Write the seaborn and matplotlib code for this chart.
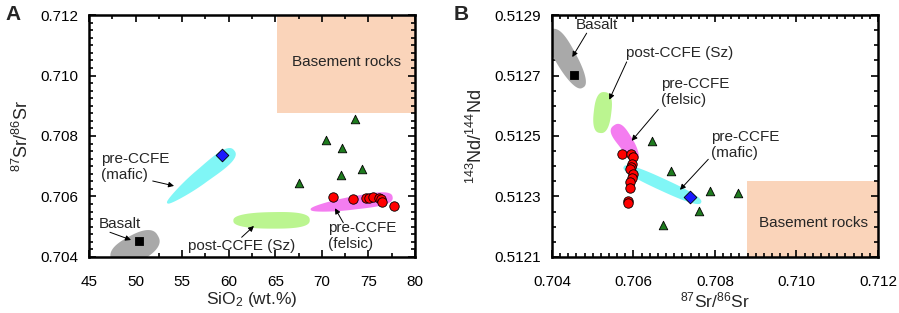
import numpy as np
import matplotlib
matplotlib.use("Agg")
import matplotlib.pyplot as plt
import seaborn as sns
from matplotlib.patches import Polygon, Rectangle
from matplotlib.ticker import FixedLocator, AutoMinorLocator, FormatStrFormatter

# ---- data ----
# panel A: SiO2 vs 87Sr/86Sr
a_tri_x = [73.6, 70.5, 72.2, 74.3, 72.1, 67.5]
a_tri_y = [0.70856, 0.70787, 0.70759, 0.70690, 0.70671, 0.70646]
a_circ_x = [71.2, 73.3, 74.7, 75.1, 75.5, 76.1, 76.4, 76.5, 77.7]
a_circ_y = [0.70599, 0.70592, 0.70596, 0.70594, 0.70598, 0.70594, 0.70592, 0.70583, 0.70570]
a_dia = (59.24, 0.70736)
a_sq = (50.33, 0.70452)

# panel B: 87Sr/86Sr vs 143Nd/144Nd
b_tri_x = [0.70646, 0.70691, 0.70789, 0.70857, 0.70762, 0.70672]
b_tri_y = [0.512484, 0.512385, 0.512319, 0.512310, 0.512251, 0.512207]
b_circ_x = [0.70571, 0.70594, 0.70598, 0.70596, 0.70594, 0.70592, 0.70600,
            0.70596, 0.70592, 0.70592, 0.70586, 0.70586]
b_circ_y = [0.512440, 0.512440, 0.512432, 0.512407, 0.512399, 0.512392, 0.512374,
            0.512360, 0.512349, 0.512329, 0.512286, 0.512280]
b_dia = (0.707387, 0.512299)
b_sq = (0.704548, 0.512703)

# compositional fields: tip-to-tip (start point, end point) in data units
a_fields = {
    "basalt": [(47.50, 0.70385), (52.40, 0.70470)],
    "mafic": [(53.40, 0.70578), (60.60, 0.70752)],
    "post": [(60.50, 0.70520), (68.70, 0.70522)],
    "felsic": [(68.80, 0.70557), (77.60, 0.70598)],
}
b_fields = {
    "basalt": [(0.703950, 0.512850), (0.704760, 0.512660)],
    "post": [(0.705300, 0.512645), (0.705180, 0.512510)],
    "felsic": [(0.705520, 0.512535), (0.706090, 0.512425)],
    "mafic": [(0.705760, 0.512398), (0.707660, 0.512280)],
}
a_basement = [65.15, 80.0, 0.70877, 0.712]
b_basement = [0.70878, 0.712, 0.5121, 0.51235]

a_xticks = [45, 50, 55, 60, 65, 70, 75, 80]
a_yticks = [0.704, 0.706, 0.708, 0.710, 0.712]
b_xticks = [0.704, 0.706, 0.708, 0.710, 0.712]
b_yticks = [0.5121, 0.5123, 0.5125, 0.5127, 0.5129]

# labels: text, text anchor (left, middle), arrow tail, arrow head
a_labels = [
    ("pre-CCFE\n(mafic)", (46.25, 0.706965), (51.84, 0.706512), (54.13, 0.70635)),
    ("Basalt", (46.0, 0.705091), (47.25, 0.704817), (49.51, 0.704562)),
    ("post-CCFE (Sz)", (55.66, 0.704364), (61.39, 0.704651), (62.71, 0.705025)),
    ("pre-CCFE\n(felsic)", (70.7, 0.704684), (72.3, 0.705134), (71.41, 0.70561)),
]
b_labels = [
    ("Basalt", (0.70459, 0.512867), (0.704851, 0.512840), (0.704498, 0.512761)),
    ("post-CCFE (Sz)", (0.705816, 0.512773), (0.705833, 0.512745), (0.705406, 0.512620)),
    ("pre-CCFE\n(felsic)", (0.706675, 0.512645), (0.70661, 0.512588), (0.705956, 0.512484)),
    ("pre-CCFE\n(mafic)", (0.707902, 0.512469), (0.707836, 0.512423), (0.707141, 0.512322)),
]

# ---- style ----
sns.set_style("ticks")
plt.rcParams["font.family"] = ["Liberation Sans", "DejaVu Sans"]
plt.rcParams["mathtext.default"] = "regular"

colors = {"basalt": "#a9a9a9", "mafic": "#80f6f6", "post": "#bbf590", "felsic": "#f47df0"}
# half-widths (px) near the start tip and near the end tip
a_radii = {"basalt": (14, 13), "mafic": (4, 11), "post": (7.5, 9), "felsic": (4, 9)}
b_radii = {"basalt": (12, 9), "post": (9, 8.5), "felsic": (9.5, 5.5), "mafic": (6, 6)}


def draw_field(ax, p0, p1, r0, r1, color, p=2.6):
    # blunt egg-shaped outline built in pixel space, then mapped back to data
    d0, d1 = ax.transData.transform([p0, p1])
    c = (d0 + d1) / 2
    v = d1 - d0
    a = np.hypot(*v) / 2
    u = v / (2 * a)
    n = np.array([-u[1], u[0]])
    t = np.linspace(0, 2 * np.pi, 160)
    ct, st = np.cos(t), np.sin(t)
    xs = a * np.sign(ct) * np.abs(ct) ** (2 / p)
    b = r0 + (r1 - r0) * (1 + ct) / 2
    ys = b * np.sign(st) * np.abs(st) ** (2 / p)
    pts = c + np.outer(xs, u) + np.outer(ys, n)
    pts = ax.transData.inverted().transform(pts)
    ax.add_patch(Polygon(pts, closed=True, fc=color, ec="none", zorder=1))


def style_axes(ax, xticks, yticks, xfmt, yfmt, xminor, yminor):
    ax.set_xlim(xticks[0], xticks[-1])
    ax.set_ylim(yticks[0], yticks[-1])
    ax.xaxis.set_major_locator(FixedLocator(xticks))
    ax.yaxis.set_major_locator(FixedLocator(yticks))
    ax.xaxis.set_major_formatter(FormatStrFormatter(xfmt))
    ax.yaxis.set_major_formatter(FormatStrFormatter(yfmt))
    ax.xaxis.set_minor_locator(AutoMinorLocator(xminor))
    ax.yaxis.set_minor_locator(AutoMinorLocator(yminor))
    ax.tick_params(which="both", direction="in", top=True, right=True, width=1.2,
                   labelsize=11, colors="black")
    ax.tick_params(which="major", length=5)
    ax.tick_params(axis="x", which="major", pad=13)
    ax.tick_params(axis="y", which="major", pad=8)
    ax.tick_params(which="minor", length=3)
    for s in ax.spines.values():
        s.set_linewidth(1.8)
        s.set_color("black")


def draw_panel(ax, fields, radii, basement, tri, circ, dia, sq, labels):
    bx0, bx1, by0, by1 = basement
    ax.add_patch(Rectangle((bx0, by0), bx1 - bx0, by1 - by0, fc="#fad4ba", ec="none", zorder=0))
    for k, (p0, p1) in fields.items():
        draw_field(ax, p0, p1, radii[k][0], radii[k][1], colors[k])
    sns.scatterplot(x=tri[0], y=tri[1], marker="^", color="#1e7b1e", edgecolor="black",
                    linewidth=0.6, s=38, ax=ax, zorder=3)
    sns.scatterplot(x=circ[0], y=circ[1], marker="o", color="#ff0000", edgecolor="black",
                    linewidth=0.6, s=46, ax=ax, zorder=3)
    sns.scatterplot(x=[dia[0]], y=[dia[1]], marker="D", color="#1a1aff", edgecolor="black",
                    linewidth=0.6, s=42, ax=ax, zorder=3)
    sns.scatterplot(x=[sq[0]], y=[sq[1]], marker="s", color="black", edgecolor="black",
                    linewidth=0.6, s=38, ax=ax, zorder=3)
    for txt, pos, tail, head in labels:
        ax.text(pos[0], pos[1], txt, ha="left", va="center", fontsize=11,
                linespacing=1.2, zorder=4)
        ax.annotate("", xy=head, xytext=tail,
                    arrowprops=dict(arrowstyle="-|>", color="black", lw=0.7,
                                    mutation_scale=8, shrinkA=0, shrinkB=0), zorder=4)


fig = plt.figure(figsize=(8.99, 3.13), dpi=100)
axA = fig.add_axes([0.099, 0.179, 0.3626, 0.773])
axB = fig.add_axes([0.614, 0.179, 0.3626, 0.773])

style_axes(axA, a_xticks, a_yticks, "%d", "%.3f", 2, 8)
style_axes(axB, b_xticks, b_yticks, "%.3f", "%.4f", 10, 4)

draw_panel(axA, a_fields, a_radii, a_basement, (a_tri_x, a_tri_y), (a_circ_x, a_circ_y),
           a_dia, a_sq, a_labels)
draw_panel(axB, b_fields, b_radii, b_basement, (b_tri_x, b_tri_y), (b_circ_x, b_circ_y),
           b_dia, b_sq, b_labels)

axA.text(72.7, 0.71044, "Basement rocks", ha="center", va="center", fontsize=11)
axB.text(0.710413, 0.512211, "Basement rocks", ha="center", va="center", fontsize=11)

axA.set_xlabel("SiO$_2$ (wt.%)", fontsize=12.5, labelpad=1)
axA.set_ylabel("$^{87}$Sr/$^{86}$Sr", fontsize=13, labelpad=6)
axB.set_xlabel("$^{87}$Sr/$^{86}$Sr", fontsize=12.5, labelpad=1)
axB.set_ylabel("$^{143}$Nd/$^{144}$Nd", fontsize=13, labelpad=6)

fig.text(0.006, 0.985, "A", fontsize=15, fontweight="bold", va="top", ha="left")
fig.text(0.505, 0.985, "B", fontsize=15, fontweight="bold", va="top", ha="left")

fig.savefig("out.png", dpi=100)
